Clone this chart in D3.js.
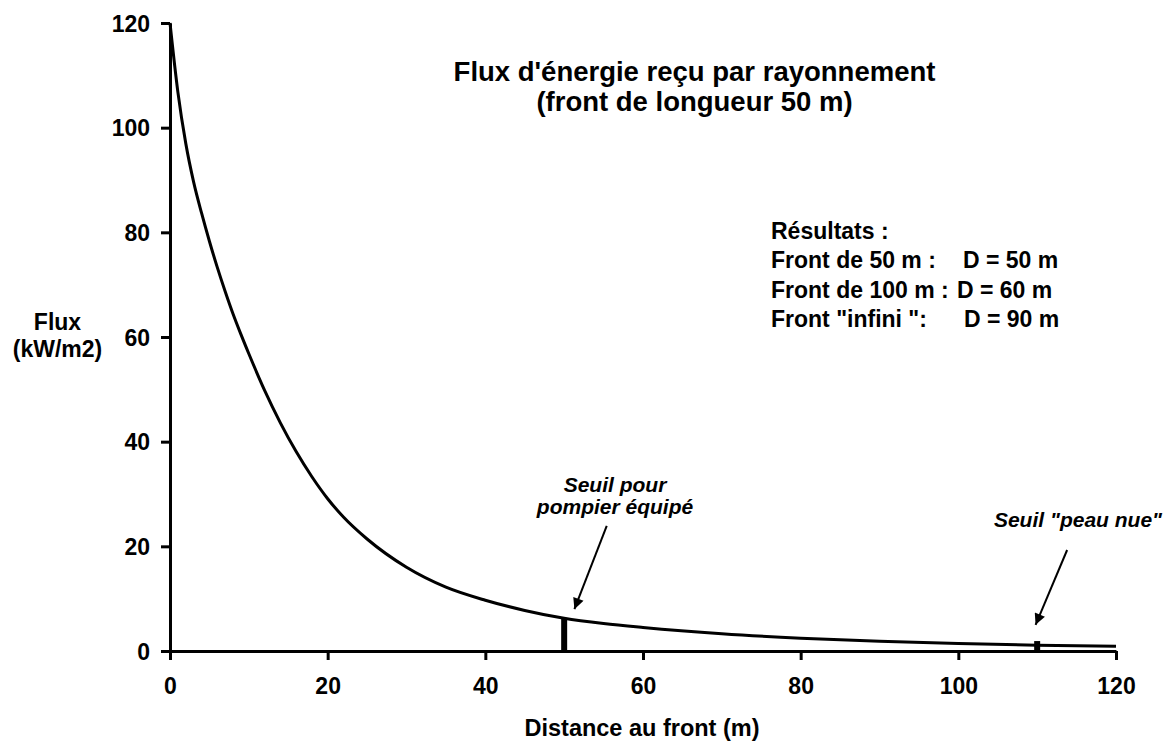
<!DOCTYPE html>
<html>
<head>
<meta charset="utf-8">
<script src="https://cdn.jsdelivr.net/npm/d3@7"></script>
<style>
  body { margin: 0; background: #fff; }
  svg text { font-family: "Liberation Sans", Arial, sans-serif; font-weight: bold; fill: #000; }
</style>
</head>
<body>
<svg id="chart" width="1165" height="742"></svg>
<script>
// distance au front (m) et flux reçu (kW/m2)
const distances = [0, 1, 2, 3, 4, 5, 6, 7, 8, 9, 10, 12, 14, 16, 18, 20, 22, 25, 30, 35, 40, 45, 50, 55, 60, 70, 80, 90, 100, 110, 120];
const flux = [120, 106.8, 97, 89.6, 83.7, 78.3, 73.3, 68.7, 64.4, 60.5, 56.8, 49.8, 43.6, 38.1, 33.3, 29.1, 25.6, 21.4, 16.0, 12.2, 9.7, 7.75, 6.25, 5.25, 4.5, 3.3, 2.45, 1.85, 1.42, 1.12, 0.9];

const xTicks = [0, 20, 40, 60, 80, 100, 120];
const yTicks = [0, 20, 40, 60, 80, 100, 120];

// seuils (barres épaisses)
const seuilDist = [50, 110];
const seuilFlux = [6.3, 1.9];

// annotations : texte + flèche (en unités du graphique)
const noteLines = [["Seuil pour", "pompier équipé"], ["Seuil \"peau nue\""]];
const arrowFrom = [[55.4, 23.9], [113.8, 19.3]];
const arrowTo = [[51.3, 8.0], [109.8, 5.0]];

const titleLines = ["Flux d'énergie reçu par rayonnement", "(front de longueur 50 m)"];
const resultLeft = ["Résultats :", "Front de 50 m :", "Front de 100 m :", "Front \"infini \":"];
const resultRight = ["", "D = 50 m", "D = 60 m", "D = 90 m"];

const svg = d3.select("#chart");

const x = d3.scaleLinear().domain([0, 120]).range([170, 1116]);
const y = d3.scaleLinear().domain([0, 120]).range([651, 23]);

// arrow marker
svg.append("defs").append("marker")
  .attr("id", "head")
  .attr("viewBox", "0 0 10 10")
  .attr("refX", 10).attr("refY", 5)
  .attr("markerWidth", 14).attr("markerHeight", 11)
  .attr("markerUnits", "userSpaceOnUse")
  .attr("orient", "auto")
  .append("path").attr("d", "M0,0 L10,5 L0,10 Z").attr("fill", "#000");

// axes
const xAxis = svg.append("g")
  .attr("transform", "translate(0," + y(0) + ")")
  .call(d3.axisBottom(x).tickValues(xTicks).tickSize(9).tickSizeOuter(0).tickPadding(18));
const yAxis = svg.append("g")
  .attr("transform", "translate(" + x(0) + ",0)")
  .call(d3.axisLeft(y).tickValues(yTicks).tickSize(9).tickSizeOuter(0).tickPadding(11));

[xAxis, yAxis].forEach(function(a){
  a.select(".domain").attr("stroke", "#000").attr("stroke-width", 3);
  a.selectAll(".tick line").attr("stroke", "#000").attr("stroke-width", 3);
  a.selectAll(".tick text").style("font-size", "23px").attr("fill", "#000");
});
yAxis.selectAll(".tick text").attr("dy", "0.36em");

// seuils
svg.selectAll("rect.seuil")
  .data(seuilDist)
  .enter().append("rect")
  .attr("class", "seuil")
  .attr("x", function(d){ return x(d) - 3; })
  .attr("width", 6)
  .attr("y", function(d, i){ return y(seuilFlux[i]); })
  .attr("height", function(d, i){ return y(0) - y(seuilFlux[i]); })
  .attr("fill", "#000");

// courbe
const pts = distances.map(function(d, i){ return [d, flux[i]]; });
svg.append("path")
  .datum(pts)
  .attr("fill", "none")
  .attr("stroke", "#000")
  .attr("stroke-width", 3)
  .attr("d", d3.line()
    .x(function(d){ return x(d[0]); })
    .y(function(d){ return y(d[1]); })
    .curve(d3.curveMonotoneX));

// flèches
svg.selectAll("line.arrow")
  .data(arrowFrom)
  .enter().append("line")
  .attr("x1", function(d){ return x(d[0]); })
  .attr("y1", function(d){ return y(d[1]); })
  .attr("x2", function(d, i){ return x(arrowTo[i][0]); })
  .attr("y2", function(d, i){ return y(arrowTo[i][1]); })
  .attr("stroke", "#000")
  .attr("stroke-width", 2)
  .attr("marker-end", "url(#head)");

// textes des seuils
const notePos = [[615, 492], [1078, 527]];
noteLines.forEach(function(lines, i){
  const t = svg.append("text")
    .attr("text-anchor", "middle")
    .style("font-size", "21px")
    .style("font-style", "italic");
  lines.forEach(function(l, j){
    t.append("tspan").attr("x", notePos[i][0]).attr("y", notePos[i][1] + j * 22).text(l);
  });
});

// titre
svg.selectAll("text.title")
  .data(titleLines)
  .enter().append("text")
  .attr("class", "title")
  .attr("x", 694.5)
  .attr("y", function(d, i){ return 81 + i * 30; })
  .attr("text-anchor", "middle")
  .style("font-size", "27.5px")
  .text(function(d){ return d; });

// résultats
svg.selectAll("text.resL")
  .data(resultLeft)
  .enter().append("text")
  .attr("x", 771)
  .attr("y", function(d, i){ return 239 + i * 29.3; })
  .style("font-size", "23px")
  .text(function(d){ return d; });
const rightX = [0, 963, 957, 964];
svg.selectAll("text.resR")
  .data(resultRight)
  .enter().append("text")
  .attr("x", function(d, i){ return rightX[i]; })
  .attr("y", function(d, i){ return 239 + i * 29.3; })
  .style("font-size", "23px")
  .text(function(d){ return d; });

// titres d'axes
svg.append("text")
  .attr("x", 642).attr("y", 736)
  .attr("text-anchor", "middle")
  .style("font-size", "23.5px")
  .text("Distance au front (m)");
svg.append("text")
  .attr("x", 57.5).attr("y", 330)
  .attr("text-anchor", "middle")
  .style("font-size", "23px")
  .text("Flux");
svg.append("text")
  .attr("x", 57.5).attr("y", 357)
  .attr("text-anchor", "middle")
  .style("font-size", "23px")
  .text("(kW/m2)");
</script>
</body>
</html>
